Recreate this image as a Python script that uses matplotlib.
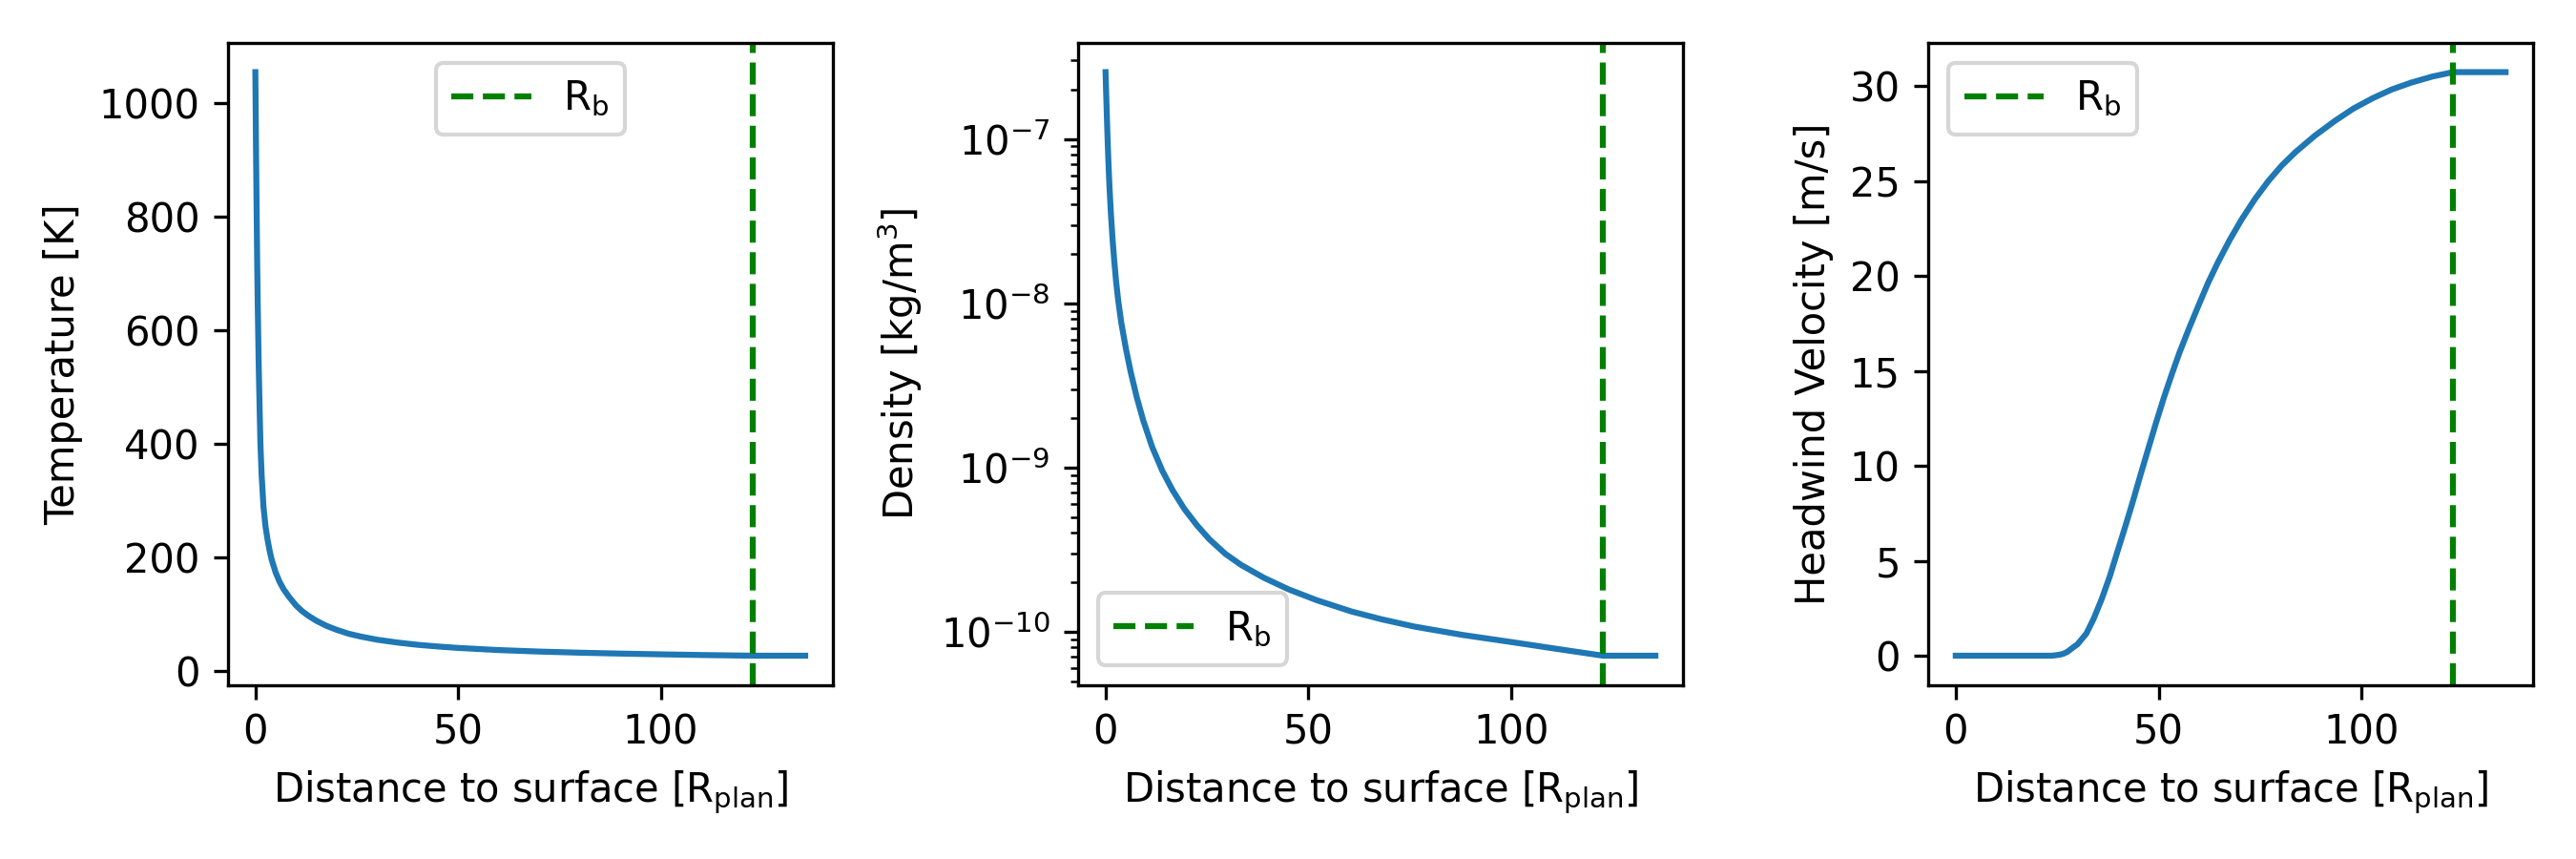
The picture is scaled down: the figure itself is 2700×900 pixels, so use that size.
import numpy as np
import matplotlib
matplotlib.use('Agg')
import matplotlib.pyplot as plt

# boundary radius (distance to surface, in planet radii)
r_b = 122.6

# temperature profile
x_temp = [0, 0.15, 0.3, 0.45, 0.6, 0.8, 1.0, 1.25, 1.55, 2.0, 2.5, 3.0, 3.5, 4.0,
          5.0, 6.0, 7.0, 8.3, 10.0, 11.5, 13.0, 15.0, 17.5, 20.0, 23.0, 26.0, 30.0,
          35.0, 40.0, 45.0, 50.0, 60.0, 70.0, 80.0, 90.0, 100.0, 110.0, 122.6, 135.6]
temp = [1055, 930, 820, 720, 640, 550, 480, 400, 345, 290, 255, 232, 213, 197,
        174, 157, 144, 131, 116, 106, 98, 89, 80, 73, 66, 61, 55.5,
        50.5, 46.5, 43.5, 41, 37.2, 34.6, 32.6, 31, 29.7, 28.5, 27.3, 27.3]

# density profile [kg/m^3]
x_dens = [0, 0.2, 0.37, 0.55, 0.77, 1.0, 1.31, 1.7, 2.17, 2.6, 3.1, 3.87, 5.0, 6.2,
          7.7, 9.3, 11.5, 14.0, 16.5, 19.4, 22.5, 25.6, 29.5, 33.4, 39.0, 45.1,
          52.0, 60.6, 68.0, 76.1, 88.0, 100.5, 111.0, 122.6, 135.5]
dens = [2.55e-7, 1.74e-7, 1.27e-7, 9.31e-8, 6.64e-8, 4.95e-8, 3.56e-8, 2.51e-8,
        1.78e-8, 1.36e-8, 1.05e-8, 7.64e-9, 5.31e-9, 3.81e-9, 2.67e-9, 1.93e-9,
        1.33e-9, 9.53e-10, 7.28e-10, 5.60e-10, 4.45e-10, 3.65e-10, 2.98e-10,
        2.55e-10, 2.13e-10, 1.81e-10, 1.556e-10, 1.327e-10, 1.19e-10, 1.074e-10,
        9.55e-11, 8.61e-11, 7.87e-11, 7.14e-11, 7.14e-11]

# headwind velocity [m/s]
x_vel = [0, 10, 20, 23.6, 24.5, 25.5, 26.5, 27.5, 28.4, 30.0, 32.2, 34.0, 36.0, 38.0,
         39.8, 41.7, 43.6, 45.5, 47.5, 49.4, 51.3, 53.2, 55.1, 57.5, 59.9, 62.2,
         64.6, 67.5, 70.4, 73.7, 77.0, 80.3, 83.7, 88.5, 93.3, 98.0, 102.8, 107.5,
         112.3, 117.5, 122.6, 135.5]
vel = [0, 0, 0, 0, 0.02, 0.05, 0.1, 0.2, 0.35, 0.6, 1.17, 1.95, 3.0, 4.2,
       5.45, 6.75, 8.09, 9.5, 10.94, 12.3, 13.6, 14.8, 15.95, 17.25, 18.49, 19.65,
       20.72, 21.9, 22.97, 24.05, 25.0, 25.82, 26.53, 27.4, 28.16, 28.83, 29.38, 29.84,
       30.2, 30.52, 30.75, 30.75]

xlabel = r'Distance to surface [R$_{\rm plan}$]'
rb_label = r'R$_{\rm b}$'

fig, axs = plt.subplots(1, 3, figsize=(9, 3), dpi=300)

ax = axs[0]
ax.plot(x_temp, temp)
ax.axvline(r_b, color='green', linestyle='--', label=rb_label)
ax.set_xlabel(xlabel)
ax.set_ylabel('Temperature [K]')
ax.legend(loc='upper center')

ax = axs[1]
ax.plot(x_dens, dens)
ax.axvline(r_b, color='green', linestyle='--', label=rb_label)
ax.set_yscale('log')
ax.set_xlabel(xlabel)
ax.set_ylabel(r'Density [kg/m$^3$]')
ax.legend(loc='lower left')

ax = axs[2]
ax.plot(x_vel, vel)
ax.axvline(r_b, color='green', linestyle='--', label=rb_label)
ax.set_xlabel(xlabel)
ax.set_ylabel('Headwind Velocity [m/s]')
ax.legend(loc='upper left')

plt.tight_layout()
fig.savefig('out.png', dpi=300)
